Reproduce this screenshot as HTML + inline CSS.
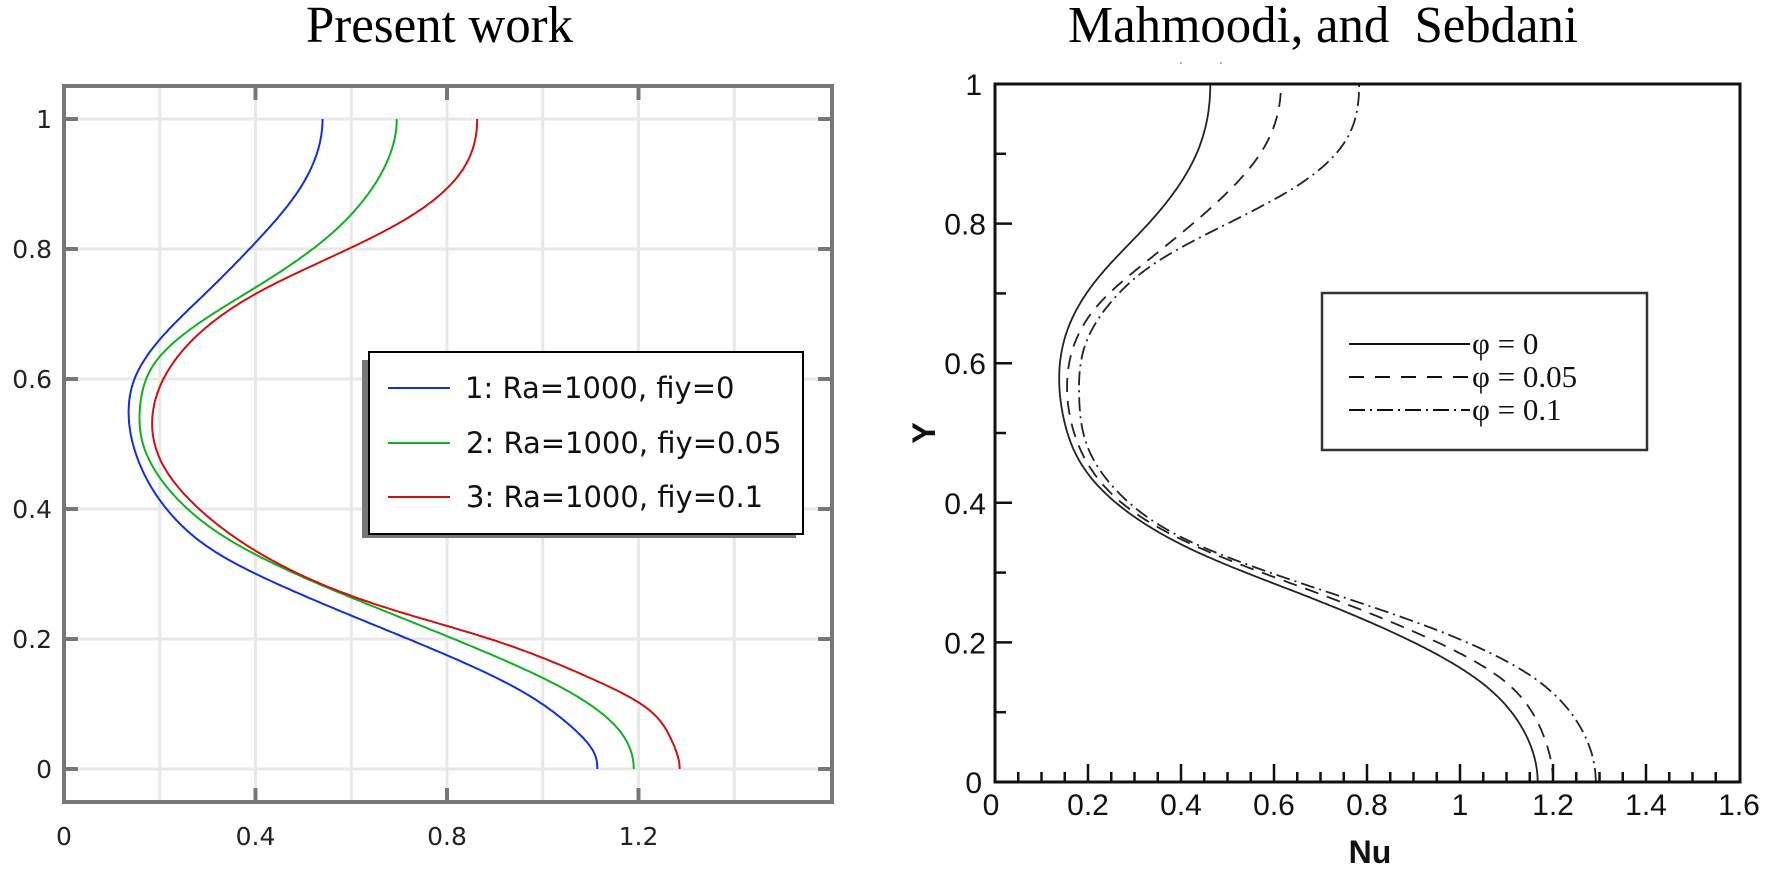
<!DOCTYPE html>
<html><head><meta charset="utf-8"><style>
html,body{margin:0;padding:0;background:#fff;}
svg{display:block;}
</style></head><body>
<svg id="s" width="1769" height="874" xmlns="http://www.w3.org/2000/svg">
<rect width="1769" height="874" fill="#fff"/>
<text x="306" y="42" font-family="Liberation Serif, serif" font-size="52" textLength="267" lengthAdjust="spacingAndGlyphs" fill="#000">Present work</text>
<text x="1068" y="42" font-family="Liberation Serif, serif" font-size="52" textLength="510" lengthAdjust="spacingAndGlyphs" fill="#000" xml:space="preserve">Mahmoodi, and  Sebdani</text>

<g id="leftgrid" stroke="#e8e8e8" stroke-width="3"></g>
<g id="leftcurves" fill="none" stroke-width="2"></g>
<rect x="64" y="86" width="768" height="716" fill="none" stroke="#777" stroke-width="4"/>
<g id="leftticks" stroke="#777" stroke-width="4"></g>
<g font-family="DejaVu Sans, sans-serif" font-size="25" fill="#222" id="leftlabels"></g>

<rect x="362" y="360" width="434" height="178" fill="#777"/>
<rect x="369" y="352" width="434" height="182" fill="#fff" stroke="#000" stroke-width="2"/>
<g stroke-width="2">
<line x1="388" y1="388" x2="450" y2="388" stroke="#1030e0"/>
<line x1="388" y1="443" x2="450" y2="443" stroke="#10b020"/>
<line x1="388" y1="497" x2="450" y2="497" stroke="#d01010"/>
</g>
<g font-family="DejaVu Sans, sans-serif" font-size="29" fill="#111">
<text x="465" y="398">1: Ra=1000, fiy=0</text>
<text x="466" y="453">2: Ra=1000, fiy=0.05</text>
<text x="466" y="507">3: Ra=1000, fiy=0.1</text>
</g>

<g id="rightcurves" fill="none" stroke="#222" stroke-width="1.8"></g>
<rect x="995" y="84" width="745" height="698" fill="none" stroke="#111" stroke-width="3"/>
<g id="rightticks" stroke="#111" stroke-width="2.5"></g>
<g font-family="Liberation Sans, Arial, sans-serif" font-size="30" fill="#111" id="rightlabels"></g>
<text x="1370" y="863" font-family="Liberation Sans, Arial, sans-serif" font-size="32" font-weight="bold" text-anchor="middle" fill="#111">Nu</text>
<text transform="translate(935,433) rotate(-90)" font-family="Liberation Sans, Arial, sans-serif" font-size="32" font-weight="bold" text-anchor="middle" fill="#111">Y</text>
<circle cx="1181" cy="63" r="1" fill="#999"/><circle cx="1221" cy="63" r="1" fill="#999"/>

<rect x="1322" y="293" width="325" height="157" fill="#fff" stroke="#333" stroke-width="2.5"/>
<g stroke="#111" stroke-width="2">
<line x1="1349" y1="344" x2="1470" y2="344"/>
<line x1="1349" y1="377" x2="1470" y2="377" stroke-dasharray="15 11"/>
<line x1="1349" y1="410" x2="1470" y2="410" stroke-dasharray="16 5 2 5"/>
</g>
<g font-family="Liberation Serif, serif" font-size="31" fill="#111">
<text x="1472" y="354">φ = 0</text>
<text x="1472" y="387">φ = 0.05</text>
<text x="1472" y="420">φ = 0.1</text>
</g>
</svg>
<script>
var NS="http://www.w3.org/2000/svg";
function el(p,t,a,txt){var e=document.createElementNS(NS,t);for(var k in a)e.setAttribute(k,a[k]);if(txt!==undefined)e.textContent=txt;document.getElementById(p).appendChild(e);return e;}
// clamped cubic spline x(y) with zero derivative at ends
function spline(pts){
  var P=pts.slice().sort(function(a,b){return a[1]-b[1]});
  var n=P.length,ys=P.map(function(p){return p[1]}),xs=P.map(function(p){return p[0]});
  var h=[],i;for(i=0;i<n-1;i++)h.push(ys[i+1]-ys[i]);
  var a=new Array(n).fill(0),b=new Array(n).fill(0),c=new Array(n).fill(0),d=new Array(n).fill(0);
  b[0]=2*h[0];c[0]=h[0];d[0]=6*((xs[1]-xs[0])/h[0]-0);
  for(i=1;i<n-1;i++){a[i]=h[i-1];b[i]=2*(h[i-1]+h[i]);c[i]=h[i];d[i]=6*((xs[i+1]-xs[i])/h[i]-(xs[i]-xs[i-1])/h[i-1]);}
  a[n-1]=h[n-2];b[n-1]=2*h[n-2];d[n-1]=6*(0-(xs[n-1]-xs[n-2])/h[n-2]);
  for(i=1;i<n;i++){var m=a[i]/b[i-1];b[i]-=m*c[i-1];d[i]-=m*d[i-1];}
  var M=new Array(n);M[n-1]=d[n-1]/b[n-1];for(i=n-2;i>=0;i--)M[i]=(d[i]-c[i]*M[i+1])/b[i];
  return function(y){var k=0;while(k<n-2&&y>ys[k+1])k++;var t1=ys[k+1]-y,t0=y-ys[k],hh=h[k];
    return M[k]*t1*t1*t1/(6*hh)+M[k+1]*t0*t0*t0/(6*hh)+(xs[k]/hh-M[k]*hh/6)*t1+(xs[k+1]/hh-M[k+1]*hh/6)*t0;};
}
function path(pts,X,Y){var f=spline(pts),d="";for(var j=0;j<=400;j++){var y=j/400;d+=(j?"L":"M")+X(f(y)).toFixed(1)+","+Y(y).toFixed(1);}return d;}
// left
var LX=function(x){return 64+x*478.75},LY=function(y){return 769-y*650};
for(var i=1;i<=7;i++)el("leftgrid","line",{x1:LX(i*0.2),y1:88,x2:LX(i*0.2),y2:800});
for(var i=0;i<=5;i++)el("leftgrid","line",{x1:66,y1:LY(i*0.2),x2:830,y2:LY(i*0.2)});
for(var i=0;i<=5;i++){var y=LY(i*0.2);el("leftticks","line",{x1:64,y1:y,x2:78,y2:y});el("leftticks","line",{x1:818,y1:y,x2:832,y2:y});
el("leftlabels","text",{x:52,y:y+9,"text-anchor":"end"},["0","0.2","0.4","0.6","0.8","1"][i]);}
[0.4,0.8,1.2].forEach(function(v){var x=LX(v);el("leftticks","line",{x1:x,y1:86,x2:x,y2:100});el("leftticks","line",{x1:x,y1:788,x2:x,y2:802});});
[[0,"0"],[0.4,"0.4"],[0.8,"0.8"],[1.2,"1.2"]].forEach(function(a){el("leftlabels","text",{x:LX(a[0]),y:845,"text-anchor":"middle"},a[1]);});
var blue=[[0.54,1],[0.49,0.89],[0.40,0.81],[0.30,0.735],[0.205,0.665],[0.15,0.605],[0.135,0.55],[0.155,0.475],[0.22,0.395],[0.325,0.33],[0.46,0.28],[0.62,0.23],[0.80,0.175],[0.96,0.118],[1.06,0.065],[1.11,0.02],[1.114,0]];
var green=[[0.695,1],[0.645,0.895],[0.545,0.815],[0.42,0.75],[0.29,0.69],[0.195,0.63],[0.16,0.565],[0.165,0.5],[0.225,0.425],[0.34,0.355],[0.50,0.295],[0.68,0.24],[0.87,0.183],[1.04,0.125],[1.14,0.075],[1.183,0.03],[1.19,0]];
var red=[[0.863,1],[0.815,0.905],[0.70,0.84],[0.55,0.785],[0.41,0.735],[0.29,0.675],[0.215,0.61],[0.185,0.545],[0.205,0.47],[0.29,0.395],[0.45,0.315],[0.665,0.25],[0.89,0.2],[1.09,0.143],[1.215,0.095],[1.268,0.046],[1.286,0]];
[[blue,"#1030e0"],[green,"#10b020"],[red,"#d01010"]].forEach(function(c){el("leftcurves","path",{d:path(c[0],LX,LY),stroke:c[1]});});
// right
var RX=function(x){return 995+x*465},RY=function(y){return 782-y*698};
for(var i=1;i<10;i++){var y=RY(i*0.1);el("rightticks","line",{x1:995,y1:y,x2:(i%2==0?1012:1006),y2:y});}
for(var i=1;i<32;i++){var x=RX(i*0.05);el("rightticks","line",{x1:x,y1:782,x2:x,y2:(i%4==0?764:772)});}
for(var i=0;i<=5;i++){var y=RY(i*0.2);el("rightlabels","text",{x:(i==0||i==5)?982:986,y:y+11,"text-anchor":"end"},["0","0.2","0.4","0.6","0.8","1"][i]);}
for(var i=0;i<=8;i++){el("rightlabels","text",{x:RX(i*0.2)-(i==0?4:0),y:815,"text-anchor":"middle"},["0","0.2","0.4","0.6","0.8","1","1.2","1.4","1.6"][i]);}
var s0=[[0.463,1],[0.43,0.895],[0.33,0.8],[0.225,0.725],[0.16,0.655],[0.139,0.595],[0.148,0.52],[0.194,0.447],[0.287,0.386],[0.446,0.326],[0.671,0.266],[0.882,0.206],[1.041,0.145],[1.134,0.077],[1.167,0]];
var s1=[[0.615,1],[0.575,0.905],[0.46,0.82],[0.33,0.748],[0.225,0.686],[0.17,0.626],[0.155,0.568],[0.168,0.505],[0.208,0.447],[0.3,0.386],[0.459,0.33],[0.684,0.273],[0.909,0.213],[1.081,0.152],[1.173,0.077],[1.2,0]];
var s2=[[0.783,1],[0.745,0.91],[0.64,0.85],[0.50,0.80],[0.355,0.748],[0.25,0.688],[0.195,0.628],[0.181,0.552],[0.201,0.477],[0.274,0.409],[0.406,0.349],[0.644,0.288],[0.909,0.228],[1.134,0.16],[1.253,0.085],[1.292,0]];
[[s0,""],[s1,"14 9"],[s2,"14 5 2 5"]].forEach(function(c){var a={d:path(c[0],RX,RY)};if(c[1])a["stroke-dasharray"]=c[1];el("rightcurves","path",a);});
</script>
</body></html>
